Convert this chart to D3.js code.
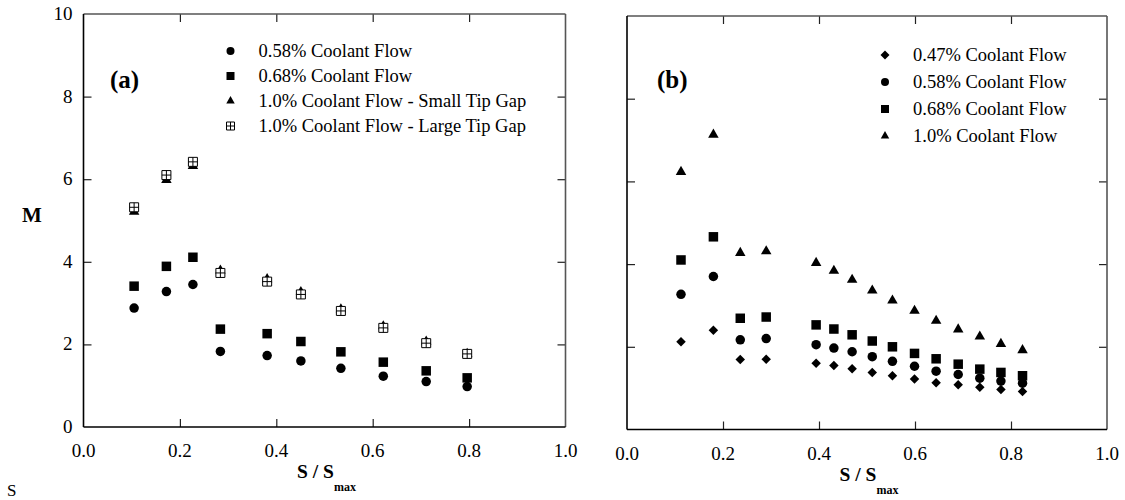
<!DOCTYPE html>
<html>
<head>
<meta charset="utf-8">
<script src="https://cdn.jsdelivr.net/npm/d3@7"></script>
<style>
  html, body { margin: 0; padding: 0; background: #fff; }
  svg text { font-family: "Liberation Serif", "Times New Roman", Times, "DejaVu Serif", serif; }
</style>
</head>
<body>
<svg id="chart" width="1125" height="500"></svg>
<script>
// ---- data ----
// Panel (a): tip-gap comparison
const sA = [0.105, 0.172, 0.227, 0.284, 0.381, 0.451, 0.534, 0.622, 0.711, 0.796];
const a058 = [2.88, 3.28, 3.45, 1.83, 1.73, 1.60, 1.42, 1.23, 1.10, 0.98];
const a068 = [3.41, 3.89, 4.11, 2.37, 2.26, 2.07, 1.82, 1.57, 1.36, 1.19];
const a10Small = [5.21, 5.98, 6.32, 3.79, 3.58, 3.27, 2.85, 2.44, 2.07, 1.77];
const a10Large = [5.32, 6.10, 6.42, 3.73, 3.52, 3.21, 2.81, 2.40, 2.03, 1.77];

// Panel (b): coolant flow sweep
const sB = [0.1125, 0.180, 0.236, 0.290, 0.394, 0.431, 0.469, 0.511, 0.553, 0.599, 0.644, 0.690, 0.735, 0.779, 0.824];
const b047 = [2.12, 2.40, 1.69, 1.70, 1.60, 1.55, 1.47, 1.38, 1.30, 1.22, 1.13, 1.08, 1.02, 0.97, 0.92];
const b058 = [3.27, 3.70, 2.17, 2.20, 2.05, 1.97, 1.88, 1.76, 1.65, 1.53, 1.41, 1.33, 1.24, 1.17, 1.12];
const b068 = [4.10, 4.66, 2.69, 2.72, 2.53, 2.43, 2.29, 2.14, 2.00, 1.84, 1.71, 1.58, 1.46, 1.38, 1.30];
const b10 = [6.23, 7.13, 4.27, 4.31, 4.03, 3.84, 3.62, 3.36, 3.12, 2.87, 2.63, 2.42, 2.25, 2.07, 1.92];

const xTicks = [0, 0.2, 0.4, 0.6, 0.8, 1.0];
const yTicks = [0, 2, 4, 6, 8, 10];

const legendA = ["0.58% Coolant Flow", "0.68% Coolant Flow",
                 "1.0% Coolant Flow - Small Tip Gap", "1.0% Coolant Flow - Large Tip Gap"];
const legendB = ["0.47% Coolant Flow", "0.58% Coolant Flow", "0.68% Coolant Flow", "1.0% Coolant Flow"];

const serif = "'Liberation Serif', 'Times New Roman', Times, 'DejaVu Serif', serif";

// ---- marker shapes ----
const shape = {
  circle: s => d3.symbol(d3.symbolCircle, s * s * Math.PI / 4)(),
  square: s => d3.symbol(d3.symbolSquare, s * s)(),
  triangle: s => d3.symbol(d3.symbolTriangle, s * s * Math.sqrt(3) / 4)(),
  diamond: s => { const h = s / 2; return `M0,${-h}L${h},0L0,${h}L${-h},0Z`; },
  gridsq: s => { const h = s / 2; return `M${-h},${-h}H${h}V${h}H${-h}Z M0,${-h}V${h} M${-h},0H${h}`; }
};

function drawMarker(g, type, size) {
  const p = g.append("path").attr("d", shape[type](size));
  if (type === "gridsq") p.attr("fill", "#fff").attr("stroke", "#000").attr("stroke-width", 1);
  else p.attr("fill", "#000");
  return p;
}

const svg = d3.select("#chart").attr("font-family", serif);

function panel(opts) {
  const { x0, x1, y0, y1 } = opts;
  const x = d3.scaleLinear().domain([0, 1]).range([x0, x1]);
  const y = d3.scaleLinear().domain([0, 10]).range([y1, y0]);
  const g = svg.append("g");
  const tl = 8;

  // inward ticks on all four sides
  const inner = xTicks.filter(t => t > 0 && t < 1);
  const innerY = yTicks.filter(t => t > 0 && t < 10);
  g.append("g").call(d3.axisBottom(x).tickValues(inner).tickSize(-tl).tickFormat(""))
    .attr("transform", `translate(0,${y1})`);
  g.append("g").call(d3.axisTop(x).tickValues(inner).tickSize(-tl).tickFormat(""))
    .attr("transform", `translate(0,${y0})`);
  g.append("g").call(d3.axisLeft(y).tickValues(innerY).tickSize(-tl).tickFormat(""))
    .attr("transform", `translate(${x0},0)`);
  g.append("g").call(d3.axisRight(y).tickValues(innerY).tickSize(-tl).tickFormat(""))
    .attr("transform", `translate(${x1},0)`);
  g.selectAll(".domain").remove();
  g.selectAll(".tick line").attr("stroke", "#222").attr("stroke-width", 1.2);

  // frame: dark left/bottom, grey top/right
  g.append("line").attr("x1", x0).attr("x2", x1).attr("y1", y0).attr("y2", y0)
    .attr("stroke", "#555").attr("stroke-width", 1.6);
  g.append("line").attr("x1", x1).attr("x2", x1).attr("y1", y0).attr("y2", y1)
    .attr("stroke", "#555").attr("stroke-width", 1.6);
  g.append("line").attr("x1", x0).attr("x2", x1).attr("y1", y1).attr("y2", y1)
    .attr("stroke", "#000").attr("stroke-width", 1.6);
  g.append("line").attr("x1", x0).attr("x2", x0).attr("y1", y0).attr("y2", y1)
    .attr("stroke", "#000").attr("stroke-width", 1.6);

  // x tick labels
  g.selectAll("text.xl").data(xTicks).join("text").attr("class", "xl")
    .attr("font-family", serif)
    .attr("x", d => x(d)).attr("y", y1 + 30).attr("text-anchor", "middle")
    .attr("font-size", 19).text(d => d.toFixed(1));

  // y tick labels
  if (opts.yLabels) {
    g.selectAll("text.yl").data(yTicks).join("text").attr("class", "yl")
      .attr("font-family", serif)
      .attr("x", x0 - 11).attr("y", d => y(d) + 6).attr("text-anchor", "end")
      .attr("font-size", 19).text(d => d);
  }

  // axis title S / S_max
  const t = g.append("text").attr("x", (x0 + x1) / 2 + 2).attr("y", y1 + 51)
    .attr("font-family", serif)
    .attr("text-anchor", "middle").attr("font-weight", "bold").attr("font-size", 19.5);
  t.append("tspan").text("S / S");
  t.append("tspan").attr("font-size", 12).attr("dy", 13).text("max");

  // panel tag
  g.append("text").attr("x", opts.tagX).attr("y", 88).attr("font-weight", "bold")
    .attr("font-family", serif).attr("font-size", 25).text(opts.tag);

  // series
  opts.series.forEach(s => {
    s.values.forEach((v, i) => {
      drawMarker(g, s.type, s.size).attr("transform", `translate(${x(opts.s[i])},${y(v)})`);
    });
  });

  // legend
  opts.legend.forEach((name, i) => {
    const ly = opts.legY + i * opts.legStep;
    const s = opts.series.find(d => d.name === name);
    drawMarker(g, s.type, s.legSize).attr("transform", `translate(${opts.legX},${ly})`);
    g.append("text").attr("x", opts.legX + 28).attr("y", ly + 6)
      .attr("font-family", serif).attr("font-size", 18.5).text(name);
  });
}

panel({
  x0: 83.5, x1: 565.5, y0: 14, y1: 427,
  yLabels: true, tag: "(a)", tagX: 110,
  s: sA,
  series: [
    { name: legendA[0], type: "circle", size: 9.5, legSize: 8, values: a058 },
    { name: legendA[1], type: "square", size: 9.5, legSize: 8, values: a068 },
    { name: legendA[2], type: "triangle", size: 10.5, legSize: 8.5, values: a10Small },
    { name: legendA[3], type: "gridsq", size: 9, legSize: 8, values: a10Large }
  ],
  legend: legendA, legX: 230.5, legY: 51, legStep: 25
});

panel({
  x0: 627, x1: 1107, y0: 16, y1: 429.5,
  yLabels: false, tag: "(b)", tagX: 657,
  s: sB,
  series: [
    { name: legendB[0], type: "diamond", size: 9.5, legSize: 9, values: b047 },
    { name: legendB[1], type: "circle", size: 9.5, legSize: 8, values: b058 },
    { name: legendB[2], type: "square", size: 9.5, legSize: 8, values: b068 },
    { name: legendB[3], type: "triangle", size: 10.5, legSize: 8.5, values: b10 }
  ],
  legend: legendB, legX: 885, legY: 55, legStep: 27
});

// y axis title
svg.append("text").attr("x", 32).attr("y", 222).attr("text-anchor", "middle")
  .attr("font-family", serif)
  .attr("font-weight", "bold").attr("font-size", 21).text("M");

// stray caption letter at lower left
svg.append("text").attr("x", 7).attr("y", 496).attr("font-family", serif)
  .attr("font-size", 17).text("S");
</script>
</body>
</html>
